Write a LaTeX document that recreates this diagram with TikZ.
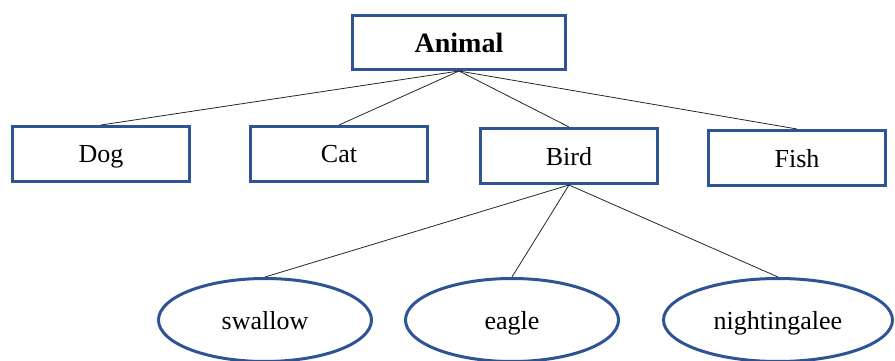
\documentclass[tikz,border=0pt]{standalone}
\usepackage{fontspec}
\setmainfont{Liberation Serif}
\usetikzlibrary{shapes.geometric}
\definecolor{wordblue}{HTML}{2F5496}
\tikzset{
    tree/.style={
        x=1pt,y=-1pt,
        box/.append style={draw=wordblue,line width=3pt,rectangle,align=center,text depth=0pt,minimum width=177pt,minimum height=55pt,font=\fontsize{26}{30}\selectfont},
        top/.append style={box,minimum width=213pt,minimum height=54pt,font=\fontsize{28}{32}\selectfont\bfseries},
        leaf/.append style={draw=wordblue,line width=3pt,ellipse,align=center,text depth=0pt,minimum width=213pt,minimum height=83pt,font=\fontsize{26}{30}\selectfont},
        link/.append style={draw,black!85,line width=0.8pt}
    }
}

\begin{document}
\begin{tikzpicture}[tree]
    \path[use as bounding box,clip] (0,0) rectangle (895,361);
    \node[top] (animal) at (459, 42.5) {Animal};

        \node[box] (dog) at (101, 154) {Dog};
        \node[box] (cat) at (339, 154) {Cat};
        \node[box] (bird) at (569, 156) {Bird};
        \node[box] (fish) at (797, 158) {Fish};
        \foreach \k in {dog,cat,bird,fish}
            \draw[link] (animal.south) -- (\k.north);

        \node[leaf] (swallow) at (265, 320) {swallow};
        \node[leaf] (eagle) at (512, 320) {eagle};
        \node[leaf,minimum width=229pt] (nightingale) at (778, 320) {nightingalee};
        \foreach \k in {swallow,eagle,nightingale}
            \draw[link] (bird.south) -- (\k.north);
\end{tikzpicture}
\end{document}
